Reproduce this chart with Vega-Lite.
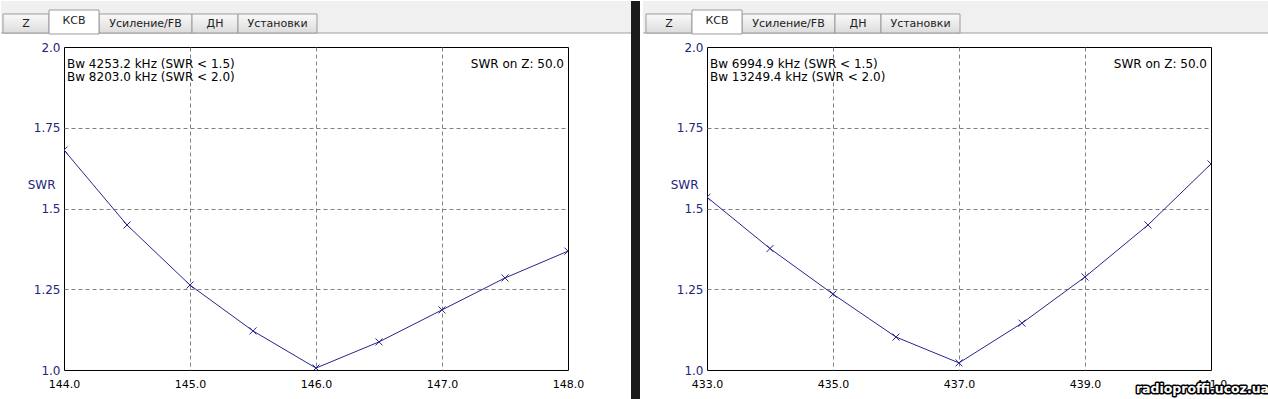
{
  "$schema": "https://vega.github.io/schema/vega-lite/v6.json",
  "padding": 0,
  "background": "white",
  "spacing": 0,
  "config": {
    "view": {"stroke": "black", "strokeWidth": 1},
    "font": "DejaVu Sans"
  },
  "hconcat": [
    {
      "width": 504,
      "height": 323,
      "data": {"values": [
        {"f": 144.0, "swr": 1.681},
        {"f": 144.5, "swr": 1.449},
        {"f": 145.0, "swr": 1.263},
        {"f": 145.5, "swr": 1.121},
        {"f": 146.0, "swr": 1.006},
        {"f": 146.5, "swr": 1.087},
        {"f": 147.0, "swr": 1.186},
        {"f": 147.5, "swr": 1.285},
        {"f": 148.0, "swr": 1.368}
      ]},
      "layer": [
        {"data": {"values": [{}]}, "mark": {"type": "rect", "fill": "#f0f0f0"},
         "encoding": {"x": {"datum": 143.5}, "x2": {"datum": 148.5}, "y": {"datum": 2.14241}, "y2": {"datum": 2.04334}}},
        {"data": {"values": [{}]}, "mark": {"type": "rect", "fill": "#1b1b1b"},
         "encoding": {"x": {"datum": 148.5}, "x2": {"datum": 148.5714}, "y": {"datum": 2.14241}, "y2": {"datum": 0.90712}}},
        {"data": {"values": [{}]}, "mark": {"type": "rule", "stroke": "#a0a0a0"},
         "encoding": {"x": {"datum": 143.5}, "x2": {"datum": 148.5}, "y": {"datum": 2.04334}}},
        {"data": {"values": [{}]}, "mark": {"type": "rect", "stroke": "#9a9a9a", "fill": {"gradient": "linear", "x1": 0, "y1": 0, "x2": 0, "y2": 1, "stops": [{"offset": 0, "color": "#fafafa"}, {"offset": 1, "color": "#dcdcdc"}]}},
         "encoding": {"x": {"datum": 143.5159}, "x2": {"datum": 143.8810}, "y": {"datum": 2.10217}, "y2": {"datum": 2.04334}}},
        {"data": {"values": [{}]}, "mark": {"type": "rect", "stroke": "#9a9a9a", "fill": {"gradient": "linear", "x1": 0, "y1": 0, "x2": 0, "y2": 1, "stops": [{"offset": 0, "color": "#fafafa"}, {"offset": 1, "color": "#dcdcdc"}]}},
         "encoding": {"x": {"datum": 144.2778}, "x2": {"datum": 145.0159}, "y": {"datum": 2.10217}, "y2": {"datum": 2.04334}}},
        {"data": {"values": [{}]}, "mark": {"type": "rect", "stroke": "#9a9a9a", "fill": {"gradient": "linear", "x1": 0, "y1": 0, "x2": 0, "y2": 1, "stops": [{"offset": 0, "color": "#fafafa"}, {"offset": 1, "color": "#dcdcdc"}]}},
         "encoding": {"x": {"datum": 145.0159}, "x2": {"datum": 145.3810}, "y": {"datum": 2.10217}, "y2": {"datum": 2.04334}}},
        {"data": {"values": [{}]}, "mark": {"type": "rect", "stroke": "#9a9a9a", "fill": {"gradient": "linear", "x1": 0, "y1": 0, "x2": 0, "y2": 1, "stops": [{"offset": 0, "color": "#fafafa"}, {"offset": 1, "color": "#dcdcdc"}]}},
         "encoding": {"x": {"datum": 145.3810}, "x2": {"datum": 146.0079}, "y": {"datum": 2.10217}, "y2": {"datum": 2.04334}}},
        {"data": {"values": [{}]}, "mark": {"type": "rect", "stroke": "#9a9a9a", "fill": "white"},
         "encoding": {"x": {"datum": 143.8810}, "x2": {"datum": 144.2778}, "y": {"datum": 2.11455}, "y2": {"datum": 2.04025}}},
        {"data": {"values": [{"tab": "Z"}]}, "mark": {"type": "text", "fontSize": 11, "color": "#222", "baseline": "middle"},
         "encoding": {"x": {"datum": 143.6984}, "y": {"datum": 2.07121}, "text": {"field": "tab"}}},
        {"data": {"values": [{"tab": "КСВ"}]}, "mark": {"type": "text", "fontSize": 11, "color": "#222", "baseline": "middle"},
         "encoding": {"x": {"datum": 144.0794}, "y": {"datum": 2.08050}, "text": {"field": "tab"}}},
        {"data": {"values": [{"tab": "Усиление/FB"}]}, "mark": {"type": "text", "fontSize": 11, "color": "#222", "baseline": "middle"},
         "encoding": {"x": {"datum": 144.6468}, "y": {"datum": 2.07121}, "text": {"field": "tab"}}},
        {"data": {"values": [{"tab": "ДН"}]}, "mark": {"type": "text", "fontSize": 11, "color": "#222", "baseline": "middle"},
         "encoding": {"x": {"datum": 145.1984}, "y": {"datum": 2.07121}, "text": {"field": "tab"}}},
        {"data": {"values": [{"tab": "Установки"}]}, "mark": {"type": "text", "fontSize": 11, "color": "#222", "baseline": "middle"},
         "encoding": {"x": {"datum": 145.6944}, "y": {"datum": 2.07121}, "text": {"field": "tab"}}},
        {"data": {"values": [{"note": "Bw 4253.2 kHz (SWR < 1.5)"}]}, "mark": {"type": "text", "fontSize": 12, "color": "black", "align": "left", "baseline": "middle", "dx": 3},
         "encoding": {"x": {"datum": 144}, "y": {"datum": 1.947}, "text": {"field": "note"}}},
        {"data": {"values": [{"note": "Bw 8203.0 kHz (SWR < 2.0)"}]}, "mark": {"type": "text", "fontSize": 12, "color": "black", "align": "left", "baseline": "middle", "dx": 3},
         "encoding": {"x": {"datum": 144}, "y": {"datum": 1.907}, "text": {"field": "note"}}},
        {"data": {"values": [{"note": "SWR on Z: 50.0"}]}, "mark": {"type": "text", "fontSize": 12, "color": "black", "align": "right", "baseline": "middle", "dx": -4},
         "encoding": {"x": {"datum": 148}, "y": {"datum": 1.947}, "text": {"field": "note"}}},
        {"mark": {"type": "line", "stroke": "#26268c", "strokeWidth": 1, "clip": true},
         "encoding": {
           "x": {"field": "f", "type": "quantitative", "scale": {"domain": [144, 148], "nice": false, "zero": false},
                 "axis": {"values": [144, 145, 146, 147, 148], "format": ".1f", "title": null, "ticks": false, "domain": false, "labelFlush": false, "labelOverlap": false, "labelColor": "black", "labelFontSize": 11, "labelPadding": 8, "grid": true, "gridColor": "#808080", "gridDash": [4, 3], "gridOpacity": {"condition": {"test": "datum.value == 144 || datum.value == 148", "value": 0}, "value": 1}}},
           "y": {"field": "swr", "type": "quantitative", "scale": {"domain": [1, 2], "nice": false, "zero": false},
                 "axis": {"values": [1, 1.25, 1.5, 1.75, 2], "labelExpr": "datum.value == 1 ? '1.0' : datum.value == 2 ? '2.0' : '' + datum.value", "title": "SWR", "titleAngle": 0, "titleAlign": "right", "titleBaseline": "middle", "titleX": -9, "titleY": 137, "titleColor": "#25257a", "titleFontWeight": "normal", "titleFontSize": 12, "labelColor": "#25257a", "labelFontSize": 12, "labelPadding": 4, "ticks": false, "domain": false, "labelFlush": false, "labelOverlap": false, "grid": true, "gridColor": "#808080", "gridDash": [4, 3], "gridOpacity": {"condition": {"test": "datum.value == 1 || datum.value == 2", "value": 0}, "value": 1}}}
         }},
        {"mark": {"type": "point", "shape": "M-1,-1L1,1M-1,1L1,-1", "filled": false, "stroke": "#26268c", "strokeWidth": 1, "size": 49, "opacity": 1, "clip": true},
         "encoding": {"x": {"field": "f", "type": "quantitative"}, "y": {"field": "swr", "type": "quantitative"}}}
      ]
    },
    {
      "width": 504,
      "height": 323,
      "data": {"values": [
        {"f": 433, "swr": 1.535},
        {"f": 434, "swr": 1.376},
        {"f": 435, "swr": 1.235},
        {"f": 436, "swr": 1.102},
        {"f": 437, "swr": 1.022},
        {"f": 438, "swr": 1.145},
        {"f": 439, "swr": 1.288},
        {"f": 440, "swr": 1.449},
        {"f": 441, "swr": 1.638}
      ]},
      "layer": [
        {"data": {"values": [{}]}, "mark": {"type": "rect", "fill": "#f0f0f0"},
         "encoding": {"x": {"datum": 431.9841}, "x2": {"datum": 441.9683}, "y": {"datum": 2.14241}, "y2": {"datum": 2.04334}}},
        {"data": {"values": [{}]}, "mark": {"type": "rule", "stroke": "#a0a0a0"},
         "encoding": {"x": {"datum": 431.9841}, "x2": {"datum": 441.9683}, "y": {"datum": 2.04334}}},
        {"data": {"values": [{}]}, "mark": {"type": "rect", "stroke": "#9a9a9a", "fill": {"gradient": "linear", "x1": 0, "y1": 0, "x2": 0, "y2": 1, "stops": [{"offset": 0, "color": "#fafafa"}, {"offset": 1, "color": "#dcdcdc"}]}},
         "encoding": {"x": {"datum": 432.0317}, "x2": {"datum": 432.7619}, "y": {"datum": 2.10217}, "y2": {"datum": 2.04334}}},
        {"data": {"values": [{}]}, "mark": {"type": "rect", "stroke": "#9a9a9a", "fill": {"gradient": "linear", "x1": 0, "y1": 0, "x2": 0, "y2": 1, "stops": [{"offset": 0, "color": "#fafafa"}, {"offset": 1, "color": "#dcdcdc"}]}},
         "encoding": {"x": {"datum": 433.5556}, "x2": {"datum": 435.0317}, "y": {"datum": 2.10217}, "y2": {"datum": 2.04334}}},
        {"data": {"values": [{}]}, "mark": {"type": "rect", "stroke": "#9a9a9a", "fill": {"gradient": "linear", "x1": 0, "y1": 0, "x2": 0, "y2": 1, "stops": [{"offset": 0, "color": "#fafafa"}, {"offset": 1, "color": "#dcdcdc"}]}},
         "encoding": {"x": {"datum": 435.0317}, "x2": {"datum": 435.7619}, "y": {"datum": 2.10217}, "y2": {"datum": 2.04334}}},
        {"data": {"values": [{}]}, "mark": {"type": "rect", "stroke": "#9a9a9a", "fill": {"gradient": "linear", "x1": 0, "y1": 0, "x2": 0, "y2": 1, "stops": [{"offset": 0, "color": "#fafafa"}, {"offset": 1, "color": "#dcdcdc"}]}},
         "encoding": {"x": {"datum": 435.7619}, "x2": {"datum": 437.0159}, "y": {"datum": 2.10217}, "y2": {"datum": 2.04334}}},
        {"data": {"values": [{}]}, "mark": {"type": "rect", "stroke": "#9a9a9a", "fill": "white"},
         "encoding": {"x": {"datum": 432.7619}, "x2": {"datum": 433.5556}, "y": {"datum": 2.11455}, "y2": {"datum": 2.04025}}},
        {"data": {"values": [{"tab": "Z"}]}, "mark": {"type": "text", "fontSize": 11, "color": "#222", "baseline": "middle"},
         "encoding": {"x": {"datum": 432.3968}, "y": {"datum": 2.07121}, "text": {"field": "tab"}}},
        {"data": {"values": [{"tab": "КСВ"}]}, "mark": {"type": "text", "fontSize": 11, "color": "#222", "baseline": "middle"},
         "encoding": {"x": {"datum": 433.1587}, "y": {"datum": 2.08050}, "text": {"field": "tab"}}},
        {"data": {"values": [{"tab": "Усиление/FB"}]}, "mark": {"type": "text", "fontSize": 11, "color": "#222", "baseline": "middle"},
         "encoding": {"x": {"datum": 434.2937}, "y": {"datum": 2.07121}, "text": {"field": "tab"}}},
        {"data": {"values": [{"tab": "ДН"}]}, "mark": {"type": "text", "fontSize": 11, "color": "#222", "baseline": "middle"},
         "encoding": {"x": {"datum": 435.3968}, "y": {"datum": 2.07121}, "text": {"field": "tab"}}},
        {"data": {"values": [{"tab": "Установки"}]}, "mark": {"type": "text", "fontSize": 11, "color": "#222", "baseline": "middle"},
         "encoding": {"x": {"datum": 436.3889}, "y": {"datum": 2.07121}, "text": {"field": "tab"}}},
        {"data": {"values": [{"note": "Bw 6994.9 kHz (SWR < 1.5)"}]}, "mark": {"type": "text", "fontSize": 12, "color": "black", "align": "left", "baseline": "middle", "dx": 3},
         "encoding": {"x": {"datum": 433}, "y": {"datum": 1.947}, "text": {"field": "note"}}},
        {"data": {"values": [{"note": "Bw 13249.4 kHz (SWR < 2.0)"}]}, "mark": {"type": "text", "fontSize": 12, "color": "black", "align": "left", "baseline": "middle", "dx": 3},
         "encoding": {"x": {"datum": 433}, "y": {"datum": 1.907}, "text": {"field": "note"}}},
        {"data": {"values": [{"note": "SWR on Z: 50.0"}]}, "mark": {"type": "text", "fontSize": 12, "color": "black", "align": "right", "baseline": "middle", "dx": -4},
         "encoding": {"x": {"datum": 441}, "y": {"datum": 1.947}, "text": {"field": "note"}}},
        {"mark": {"type": "line", "stroke": "#26268c", "strokeWidth": 1, "clip": true},
         "encoding": {
           "x": {"field": "f", "type": "quantitative", "scale": {"domain": [433, 441], "nice": false, "zero": false},
                 "axis": {"values": [433, 435, 437, 439, 441], "format": ".1f", "title": null, "ticks": false, "domain": false, "labelFlush": false, "labelOverlap": false, "labelColor": "black", "labelFontSize": 11, "labelPadding": 8, "grid": true, "gridColor": "#808080", "gridDash": [4, 3], "gridOpacity": {"condition": {"test": "datum.value == 433 || datum.value == 441", "value": 0}, "value": 1}}},
           "y": {"field": "swr", "type": "quantitative", "scale": {"domain": [1, 2], "nice": false, "zero": false},
                 "axis": {"values": [1, 1.25, 1.5, 1.75, 2], "labelExpr": "datum.value == 1 ? '1.0' : datum.value == 2 ? '2.0' : '' + datum.value", "title": "SWR", "titleAngle": 0, "titleAlign": "right", "titleBaseline": "middle", "titleX": -9, "titleY": 137, "titleColor": "#25257a", "titleFontWeight": "normal", "titleFontSize": 12, "labelColor": "#25257a", "labelFontSize": 12, "labelPadding": 4, "ticks": false, "domain": false, "labelFlush": false, "labelOverlap": false, "grid": true, "gridColor": "#808080", "gridDash": [4, 3], "gridOpacity": {"condition": {"test": "datum.value == 1 || datum.value == 2", "value": 0}, "value": 1}}}
         }},
        {"mark": {"type": "point", "shape": "M-1,-1L1,1M-1,1L1,-1", "filled": false, "stroke": "#26268c", "strokeWidth": 1, "size": 49, "opacity": 1, "clip": true},
         "encoding": {"x": {"field": "f", "type": "quantitative"}, "y": {"field": "swr", "type": "quantitative"}}},
        {"data": {"values": [{"site": "radioproffi.ucoz.ua"}]}, "mark": {"type": "text", "fontSize": 12.5, "fontWeight": "bold", "align": "right", "baseline": "middle", "fill": "black", "stroke": "black", "strokeWidth": 3, "strokeJoin": "round"},
         "encoding": {"x": {"datum": 441.9206}, "y": {"datum": 0.94118}, "text": {"field": "site"}}},
        {"data": {"values": [{"site": "radioproffi.ucoz.ua"}]}, "mark": {"type": "text", "fontSize": 12.5, "fontWeight": "bold", "align": "right", "baseline": "middle", "fill": "white"},
         "encoding": {"x": {"datum": 441.9206}, "y": {"datum": 0.94118}, "text": {"field": "site"}}}
      ]
    }
  ]
}
